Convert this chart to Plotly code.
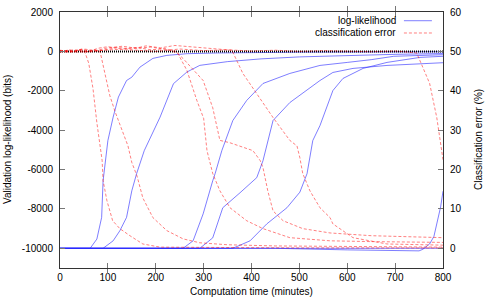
import plotly.graph_objects as go

# ---------------- data (time in minutes) ----------------
# log-likelihood (bits), left axis
ll1_t = [0, 63, 77, 87, 90, 97, 100, 111, 122, 139, 150, 167, 194, 223, 265, 330, 400, 500, 650, 800]
ll1_v = [-10000, -10000, -9530, -8430, -6570, -5040, -4530, -3340, -2320, -1480, -1310, -800, -356, -204, -117, -80, -55, -40, -30, -20]

ll2_t = [0, 90, 111, 125, 139, 150, 160, 176, 209, 237, 265, 292, 350, 420, 500, 600, 700, 800]
ll2_v = [-10000, -10000, -9620, -9110, -8430, -7080, -6210, -5040, -3340, -1640, -1050, -710, -520, -380, -280, -200, -150, -110]

ll3_t = [0, 257, 278, 299, 319, 324, 338, 361, 390, 424, 480, 543, 600, 650, 697, 750, 800]
ll3_v = [-10000, -10000, -9620, -8250, -6570, -6210, -5040, -3510, -2490, -1630, -1120, -713, -560, -420, -250, -200, -170]

ll4_t = [0, 292, 319, 340, 376, 411, 424, 434, 445, 480, 543, 570, 612, 683, 800]
ll4_v = [-10000, -10000, -9470, -7940, -7180, -6410, -5550, -4530, -3510, -2600, -1480, -1070, -865, -713, -575]

ll5_t = [0, 361, 397, 432, 474, 501, 516, 528, 543, 570, 591, 633, 683, 752, 800]
ll5_v = [-10000, -10000, -9620, -8760, -7940, -7150, -6210, -4530, -3770, -1990, -1375, -865, -560, -305, -250]

ll6_t = [0, 450, 600, 700, 750, 758, 772, 781, 789, 795, 800]
ll6_v = [-10000, -10000, -10080, -10130, -10130, -10050, -9780, -9400, -8500, -7900, -7100]

ll7_t = [0, 800]
ll7_v = [-10000, -10000]

# classification error (%), right axis
err1_t = [0, 10, 20, 30, 40, 52, 60, 69, 77, 84, 88, 90, 98, 110, 125, 146, 173, 209, 300, 500, 800]
err1_v = [50.2, 49.8, 50.4, 49.9, 50.3, 49.8, 47, 40.5, 31.9, 25, 22.3, 17.2, 12.1, 7, 5, 3.2, 1.1, 0.3, 0.2, 0.1, 0.1]

err2_t = [0, 15, 30, 45, 60, 75, 84, 94, 104, 115, 129, 142, 150, 161, 173, 194, 223, 257, 292, 350, 450, 600, 800]
err2_v = [49.7, 50.3, 50.0, 50.6, 50.1, 50.4, 49.8, 44, 38.8, 34.7, 30.4, 26, 21.8, 18.3, 12.8, 7.8, 4.5, 2.4, 1.4, 0.9, 0.6, 0.4, 0.3]

err3_t = [0, 20, 40, 60, 80, 100, 130, 160, 190, 220, 246, 265, 286, 300, 307, 319, 334, 355, 390, 424, 480, 564, 650, 800]
err3_v = [50.1, 49.7, 50.5, 50.0, 50.8, 51.2, 50.6, 51.0, 50.4, 50.7, 49.5, 45.2, 37.5, 33, 24.8, 19, 14.6, 10.3, 7, 5, 2.7, 1.9, 1.7, 1.5]

err4_t = [0, 25, 50, 75, 100, 130, 160, 190, 220, 240, 257, 286, 299, 319, 334, 355, 376, 403, 418, 424, 434, 445, 466, 507, 564, 650, 800]
err4_v = [50.3, 49.9, 50.6, 50.2, 50.9, 51.3, 50.8, 51.1, 50.5, 50.2, 48.2, 44.4, 42.6, 35.7, 27.4, 26.8, 26, 24.8, 22.3, 20.5, 14.6, 9.5, 7, 5, 3.9, 3.2, 2.7]

err5_t = [0, 30, 60, 90, 120, 150, 180, 210, 240, 270, 300, 330, 359, 382, 411, 445, 480, 495, 501, 507, 522, 543, 564, 570, 612, 683, 800]
err5_v = [50.0, 50.4, 49.8, 50.3, 51.0, 50.6, 51.4, 50.9, 51.5, 51.2, 51.0, 50.7, 50.3, 44.4, 39.3, 33.2, 27.4, 26, 23, 19, 14.6, 10.3, 7.8, 6.2, 2.7, 1.1, 0.8]

err6_t = [0, 40, 80, 120, 160, 200, 250, 300, 350, 400, 450, 500, 550, 600, 650, 700, 745, 758, 772, 787, 797, 800]
err6_v = [50.1, 49.8, 50.2, 50.5, 50.3, 50.0, 50.6, 50.2, 50.4, 50.1, 50.3, 50.0, 50.2, 50.1, 49.9, 50.1, 49.6, 45.9, 41.9, 33.2, 24.8, 22.5]

ref_t = [0, 800]
ref_v = [0, 0]

x_ticks = [0, 100, 200, 300, 400, 500, 600, 700, 800]
y_ticks = [-10000, -8000, -6000, -4000, -2000, 0, 2000]
y_tick_labels = ["-10000", "-8000", "-6000", "-4000", "-2000", "0", "2000"]
y2_ticks = [0, 10, 20, 30, 40, 50, 60]

# ---------------- figure ----------------
BLUE = "rgba(40,40,255,0.6)"
RED = "rgba(255,0,0,0.5)"
FONT = "Liberation Sans, Arial, sans-serif"

fig = go.Figure()

ll_series = [(ll1_t, ll1_v), (ll2_t, ll2_v), (ll3_t, ll3_v), (ll4_t, ll4_v),
             (ll5_t, ll5_v), (ll6_t, ll6_v), (ll7_t, ll7_v)]
err_series = [(err1_t, err1_v), (err2_t, err2_v), (err3_t, err3_v),
              (err4_t, err4_v), (err5_t, err5_v), (err6_t, err6_v)]

for t, v in err_series:
    fig.add_trace(go.Scatter(x=t, y=v, mode="lines", yaxis="y2", showlegend=False,
                             hoverinfo="skip",
                             line=dict(color=RED, width=1, dash="3px,2px")))
for t, v in ll_series:
    fig.add_trace(go.Scatter(x=t, y=v, mode="lines", showlegend=False, hoverinfo="skip",
                             line=dict(color=BLUE, width=1)))
fig.add_trace(go.Scatter(x=ref_t, y=ref_v, mode="lines", showlegend=False, hoverinfo="skip",
                         line=dict(color="black", width=2, dash="1px,1px")))

axis_common = dict(showline=True, linecolor="#333", linewidth=1, ticks="inside",
                   ticklen=5, tickcolor="#777", showgrid=False, zeroline=False,
                   automargin=False,
                   tickfont=dict(family=FONT, size=10, color="black"))

fig.update_layout(
    width=500, height=300,
    margin=dict(l=60, r=57, t=12, b=32, autoexpand=False),
    paper_bgcolor="white", plot_bgcolor="white",
    font=dict(family=FONT, size=10, color="black"),
    xaxis=dict(range=[0, 800], tickvals=x_ticks, mirror="allticks", **axis_common),
    yaxis=dict(range=[-11000, 2000], tickvals=y_ticks, ticktext=y_tick_labels,
               ticklabelstandoff=4, **axis_common),
    yaxis2=dict(range=[-5, 60], tickvals=y2_ticks, overlaying="y", side="right",
                ticklabelstandoff=4, **axis_common),
    showlegend=False,
    annotations=[
        dict(text="Computation time (minutes)", x=0.5, y=0, xref="paper", yref="paper",
             xanchor="center", yanchor="middle", yshift=-23, showarrow=False,
             font=dict(family=FONT, size=10)),
        dict(text="Validation log-likelihood (bits)", x=0, y=0.5, xref="paper", yref="paper",
             xanchor="center", yanchor="middle", xshift=-53, textangle=-90, showarrow=False,
             font=dict(family=FONT, size=10)),
        dict(text="Classification error (%)", x=1, y=0.5, xref="paper", yref="paper",
             xanchor="center", yanchor="middle", xshift=35, textangle=-90, showarrow=False,
             font=dict(family=FONT, size=10)),
        dict(text="log-likelihood", x=0.8825, y=0.968, xref="paper", yref="paper",
             xanchor="right", yanchor="middle", showarrow=False, font=dict(family=FONT, size=10)),
        dict(text="classification error", x=0.8825, y=0.918, xref="paper", yref="paper",
             xanchor="right", yanchor="middle", showarrow=False, font=dict(family=FONT, size=10)),
    ],
    shapes=[
        dict(type="line", xref="paper", yref="paper", x0=0.898, x1=0.971, y0=0.966, y1=0.966,
             line=dict(color=BLUE, width=1)),
        dict(type="line", xref="paper", yref="paper", x0=0.898, x1=0.971, y0=0.918, y1=0.918,
             line=dict(color=RED, width=1, dash="3px,2px")),
    ],
)

fig.write_html("out.html", config={"displayModeBar": False, "staticPlot": True},
               post_script="document.body.style.margin='0';document.body.style.padding='0';")
